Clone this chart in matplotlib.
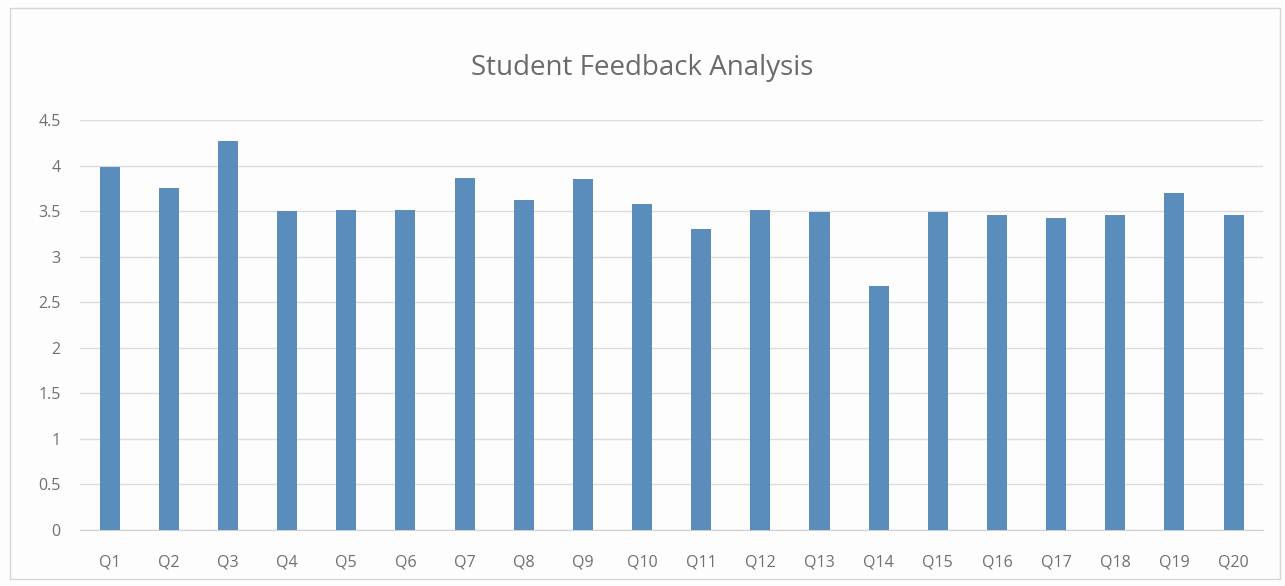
import numpy as np
import matplotlib.pyplot as plt
from matplotlib.patches import Rectangle

# data
questions = ['Q1', 'Q2', 'Q3', 'Q4', 'Q5', 'Q6', 'Q7', 'Q8', 'Q9', 'Q10',
             'Q11', 'Q12', 'Q13', 'Q14', 'Q15', 'Q16', 'Q17', 'Q18', 'Q19', 'Q20']
scores = [3.98, 3.76, 4.27, 3.50, 3.51, 3.51, 3.86, 3.62, 3.85, 3.58,
          3.31, 3.51, 3.49, 2.68, 3.49, 3.46, 3.43, 3.46, 3.70, 3.46]
yticks = [0, 0.5, 1, 1.5, 2, 2.5, 3, 3.5, 4, 4.5]
ytick_labels = ['0', '0.5', '1', '1.5', '2', '2.5', '3', '3.5', '4', '4.5']

plt.rcParams['font.family'] = ['Open Sans', 'DejaVu Sans']

fig = plt.figure(figsize=(12.85, 5.86), dpi=100)
fig.patch.set_facecolor('#fdfdfd')
ax = fig.add_axes([0.0623, 0.0956, 0.9207, 0.6994])

x = np.arange(len(questions))
ax.bar(x, scores, width=0.34, color='#5a8dbb', zorder=3)

ax.set_xlim(-0.5, len(questions) - 0.5)
ax.set_ylim(0, 4.5)
ax.set_yticks(yticks)
ax.set_yticklabels(ytick_labels)
ax.set_xticks(x)
ax.set_xticklabels(questions)
ax.tick_params(axis='both', length=0, colors='#6f6f6f', labelsize=11.5)
ax.tick_params(axis='y', pad=14)
ax.tick_params(axis='x', pad=18)

ax.grid(axis='y', color='#dcdcdc', linewidth=1, zorder=0)
for s in ['top', 'right', 'left']:
    ax.spines[s].set_visible(False)
ax.spines['bottom'].set_color('#d0d0d0')
ax.set_facecolor('none')

fig.text(0.5, 0.884, 'Student Feedback Analysis', ha='center', va='center',
         fontsize=20, color='#6a6a6a')

# light chart-area border
fig.patches.append(Rectangle((0.008, 0.012), 0.988, 0.975, transform=fig.transFigure,
                             fill=False, edgecolor='#d6d6d6', linewidth=1))

fig.savefig('out.png', dpi=100, facecolor=fig.get_facecolor())
